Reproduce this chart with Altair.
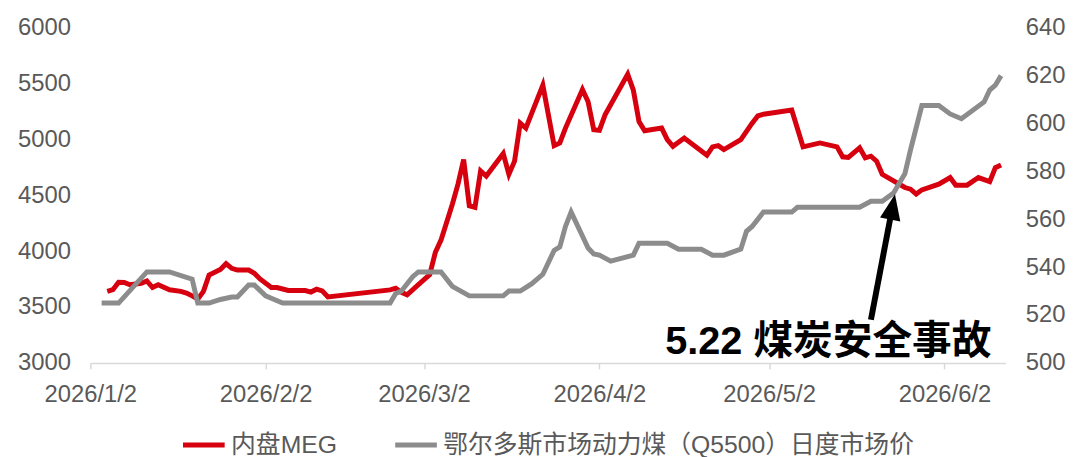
import altair as alt
import pandas as pd

# ---------------- data ----------------
series_names = ["内盘MEG", "鄂尔多斯市场动力煤（Q5500）日度市场价"]
series_colors = ["#D7000F", "#8C8C8C"]

meg_dates = [
    "2026-01-05", "2026-01-06", "2026-01-07", "2026-01-08", "2026-01-09", "2026-01-11",
    "2026-01-12", "2026-01-13", "2026-01-14", "2026-01-16", "2026-01-18", "2026-01-19",
    "2026-01-20", "2026-01-21", "2026-01-22", "2026-01-23", "2026-01-25", "2026-01-26",
    "2026-01-27", "2026-01-28", "2026-01-30", "2026-01-31",
    "2026-02-01", "2026-02-03", "2026-02-04", "2026-02-06", "2026-02-09", "2026-02-10",
    "2026-02-11", "2026-02-12", "2026-02-13", "2026-02-24", "2026-02-25", "2026-02-26",
    "2026-02-27",
    "2026-03-01", "2026-03-03", "2026-03-04", "2026-03-05", "2026-03-06", "2026-03-07",
    "2026-03-08", "2026-03-09", "2026-03-10", "2026-03-11", "2026-03-12", "2026-03-13",
    "2026-03-16", "2026-03-17", "2026-03-18", "2026-03-19", "2026-03-20", "2026-03-23",
    "2026-03-25", "2026-03-26", "2026-03-27", "2026-03-30", "2026-03-31",
    "2026-04-01", "2026-04-02", "2026-04-03", "2026-04-07", "2026-04-08", "2026-04-09",
    "2026-04-10", "2026-04-13", "2026-04-14", "2026-04-15", "2026-04-17", "2026-04-21",
    "2026-04-22", "2026-04-23", "2026-04-24", "2026-04-27", "2026-04-29", "2026-04-30",
    "2026-05-01", "2026-05-06", "2026-05-08", "2026-05-11", "2026-05-14", "2026-05-15",
    "2026-05-16", "2026-05-18", "2026-05-19", "2026-05-20", "2026-05-21", "2026-05-22",
    "2026-05-24", "2026-05-26", "2026-05-27", "2026-05-28", "2026-05-29",
    "2026-06-01", "2026-06-03", "2026-06-04", "2026-06-06", "2026-06-08", "2026-06-10",
    "2026-06-11", "2026-06-12",
]
meg_values = [
    3640, 3655, 3722, 3720, 3700, 3713, 3734, 3675, 3700, 3655, 3640, 3625,
    3600, 3571, 3640, 3787, 3837, 3888, 3846, 3831, 3831, 3802,
    3752, 3675, 3675, 3648, 3648, 3634, 3660, 3645, 3590, 3654, 3669, 3631, 3610,
    3700, 3790, 3990, 4100, 4260, 4420, 4600, 4821, 4407, 4393, 4718, 4673,
    4874, 4688, 4806, 5146, 5102, 5486, 4945, 4969, 5102, 5448, 5338,
    5087, 5081, 5220, 5583, 5441, 5161, 5078, 5102, 4998, 4939, 5013, 4859,
    4934, 4945, 4910, 4998, 5146, 5211,
    5226, 5264, 4934, 4969, 4934, 4845, 4840, 4925, 4836, 4850, 4806, 4688,
    4629, 4570, 4555, 4511, 4549,
    4600, 4659, 4591, 4591, 4659, 4623, 4748, 4771,
]

coal_dates = [
    "2026-01-04", "2026-01-07", "2026-01-12", "2026-01-16", "2026-01-20", "2026-01-21",
    "2026-01-23", "2026-01-25", "2026-01-27", "2026-01-28", "2026-01-30", "2026-01-31",
    "2026-02-02", "2026-02-03", "2026-02-05", "2026-02-24", "2026-02-25", "2026-02-26",
    "2026-02-28",
    "2026-03-01", "2026-03-05", "2026-03-07", "2026-03-10", "2026-03-16", "2026-03-17",
    "2026-03-19", "2026-03-21", "2026-03-23", "2026-03-25", "2026-03-26", "2026-03-27",
    "2026-03-28", "2026-03-30", "2026-03-31",
    "2026-04-01", "2026-04-02", "2026-04-04", "2026-04-08", "2026-04-09", "2026-04-14",
    "2026-04-16", "2026-04-20", "2026-04-22", "2026-04-24", "2026-04-27", "2026-04-28",
    "2026-04-29",
    "2026-05-01", "2026-05-06", "2026-05-07", "2026-05-18", "2026-05-20", "2026-05-22",
    "2026-05-24", "2026-05-25", "2026-05-26", "2026-05-27", "2026-05-29",
    "2026-06-01", "2026-06-03", "2026-06-05", "2026-06-09", "2026-06-10", "2026-06-11",
    "2026-06-12",
]
coal_values = [
    525, 525, 538, 538, 535, 525, 525, 526.5, 527.5, 527.5, 532.5, 532.5,
    528, 527, 525, 525, 529, 530, 536,
    538, 538, 532, 528, 528, 530, 530, 533, 537, 547, 548.5, 557, 563, 553, 548,
    545.5, 545, 542.5, 545, 550, 550, 547.5, 547.5, 545, 545, 547.5, 555, 557,
    563, 563, 565, 565, 567.5, 567.5, 571, 575, 579, 589, 607.5,
    607.5, 604, 602, 609, 614, 616, 620,
]

left_ticks = [3000, 3500, 4000, 4500, 5000, 5500, 6000]
right_ticks = [500, 520, 540, 560, 580, 600, 620, 640]
x_tick_months = [1, 2, 3, 4, 5, 6]   # ticks on the 2nd of each month

annotation_text = ["5.22 煤炭安全事故"]
annotation_date = ["2026-05-12T11:00:00"]
annotation_value = [508.5]           # right-axis units
arrow_start_date = ["2026-05-20T00:00:00"]
arrow_start_value = [518.0]
arrow_end_date = ["2026-05-23T18:00:00"]
arrow_end_value = [564.5]
arrow_tip_date = ["2026-05-24T06:00:00"]
arrow_tip_value = [570.5]

# ---------------- tables ----------------
meg_df = pd.DataFrame({"date": pd.to_datetime(meg_dates), "v": meg_values,
                       "series": series_names[0]})
coal_df = pd.DataFrame({"date": pd.to_datetime(coal_dates), "v": coal_values,
                        "series": series_names[1]})
shaft_df = pd.DataFrame({"date": pd.to_datetime(arrow_start_date), "v": arrow_start_value,
                         "date2": pd.to_datetime(arrow_end_date), "v2": arrow_end_value})
tip_df = pd.DataFrame({"date": pd.to_datetime(arrow_tip_date), "v": arrow_tip_value})
label_df = pd.DataFrame({"date": pd.to_datetime(annotation_date), "v": annotation_value,
                         "t": annotation_text})

FONT = "Liberation Sans, Arial, Noto Sans CJK SC, sans-serif"
LABEL_COLOR = "#595959"
AXIS_FS = 24

x_enc = alt.X(
    "date:T",
    scale=alt.Scale(domain=[alt.DateTime(year=2026, month=1, date=2),
                            alt.DateTime(year=2026, month=6, date=12, hours=19)]),
    axis=alt.Axis(
        values=[alt.DateTime(year=2026, month=m, date=2) for m in x_tick_months],
        format="%Y/%-m/%-d", title=None, grid=False, labelFlush=False,
        labelOverlap=False,
        domainColor="#D9D9D9", domainWidth=1.5,
        tickColor="#D9D9D9", tickWidth=1.5, tickSize=6,
        labelPadding=14, labelFontSize=AXIS_FS, labelColor=LABEL_COLOR, labelFont=FONT,
    ),
)

color_enc = alt.Color(
    "series:N",
    scale=alt.Scale(domain=series_names, range=series_colors),
    legend=alt.Legend(
        title=None, orient="none", legendX=91, legendY=397, direction="horizontal",
        symbolType="stroke", symbolStrokeWidth=5, symbolSize=1764,
        labelFontSize=25, labelColor=LABEL_COLOR, labelFont=FONT,
        columnPadding=48, labelOffset=4, padding=0, labelLimit=800,
    ),
)

y_left = alt.Y(
    "v:Q", scale=alt.Scale(domain=[3000, 6000]),
    axis=alt.Axis(values=left_ticks, format="d", orient="left", title=None, grid=False,
                  domain=False, ticks=False, tickSize=0, labelPadding=20,
                  labelFontSize=AXIS_FS, labelColor=LABEL_COLOR, labelFont=FONT),
)
y_right = alt.Y(
    "v:Q", scale=alt.Scale(domain=[500, 640]),
    axis=alt.Axis(values=right_ticks, format="d", orient="right", title=None, grid=False,
                  domain=False, ticks=False, tickSize=0, labelPadding=20,
                  labelFontSize=AXIS_FS, labelColor=LABEL_COLOR, labelFont=FONT),
)

red = alt.Chart(meg_df).mark_line(strokeWidth=5).encode(x=x_enc, y=y_left, color=color_enc)
gray = alt.Chart(coal_df).mark_line(strokeWidth=5).encode(x=x_enc, y=y_right, color=color_enc)

shaft = alt.Chart(shaft_df).mark_rule(strokeWidth=6, color="black").encode(
    x=x_enc, y=y_right, x2=alt.X2("date2:T"), y2=alt.Y2("v2:Q"))
head = alt.Chart(tip_df).mark_point(
    shape="M0,0L-0.8,2L0.8,2Z", size=676, filled=True, color="black", opacity=1,
    angle=10.7, strokeWidth=0).encode(x=x_enc, y=y_right)
label = alt.Chart(label_df).mark_text(
    fontSize=40, fontWeight="bold", font=FONT, color="black",
    align="center", baseline="middle").encode(x=x_enc, y=y_right, text="t:N")

right_layer = alt.layer(gray, shaft, head, label)

chart = (
    alt.layer(red, right_layer)
    .resolve_scale(y="independent")
    .properties(width=923, height=338,
                padding={"left": 9, "top": 6, "right": 0, "bottom": 0})
    .configure_view(strokeWidth=0)
)

chart.save("out.html", embed_options={"renderer": "svg", "actions": False})
